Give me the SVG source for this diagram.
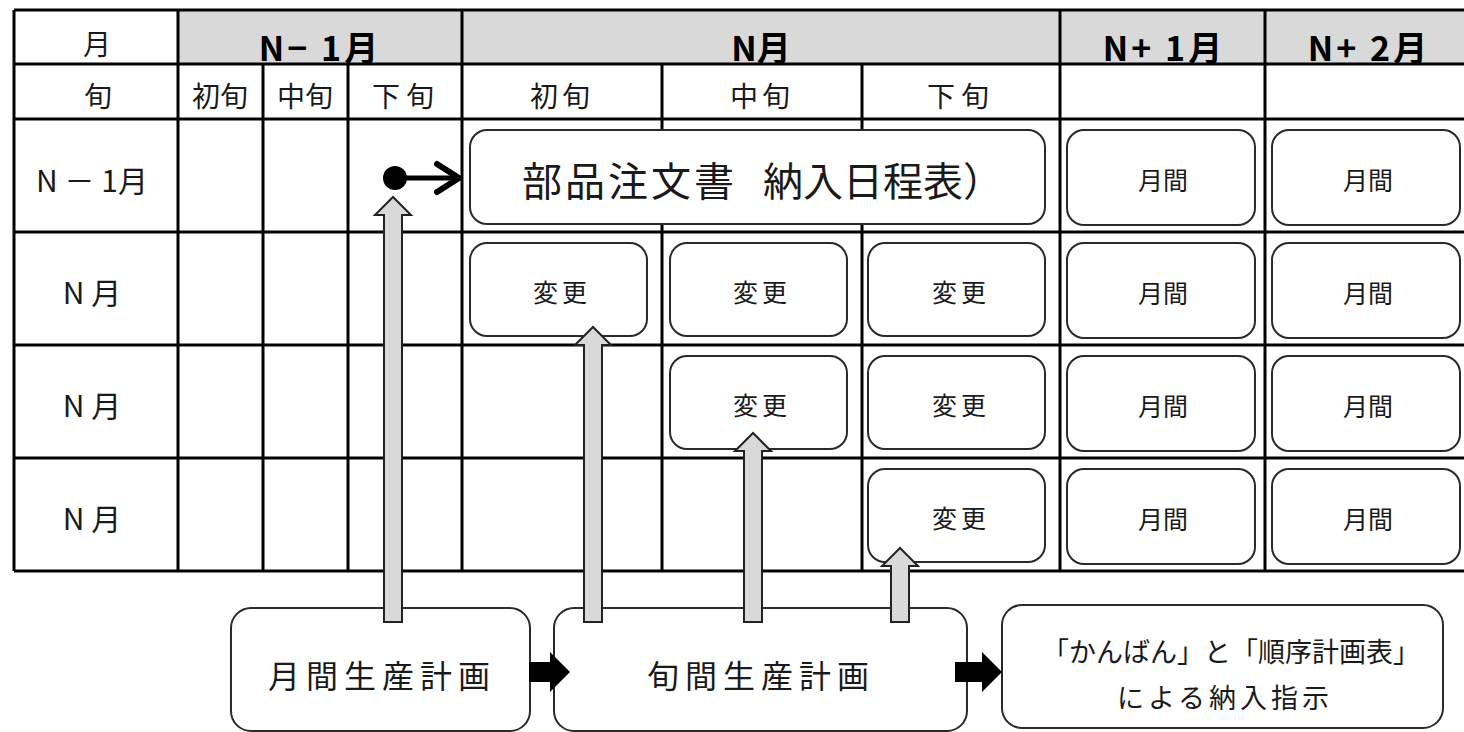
<svg xmlns="http://www.w3.org/2000/svg" width="1464" height="732" viewBox="0 0 1464 732">
<defs>
<style>
text{font-family:"Noto Sans CJK JP","Noto Sans",sans-serif;fill:#1a1a1a}
.hdr{font-size:34px;font-weight:bold;text-anchor:middle;fill:#000}
.sub{font-size:28px;text-anchor:middle}
.row{font-size:30px;text-anchor:middle}
.cell{font-size:25px;text-anchor:middle}
.big{font-size:40px}
.plan{font-size:32px;text-anchor:middle}
.note{font-size:27px;text-anchor:middle}
.grid line{stroke:#000;stroke-width:3}
.box{fill:#fff;stroke:#2a2a2a;stroke-width:2}
.blk{fill:#d9d9d9;stroke:#222;stroke-width:2}
.bar{fill:#000;stroke:none}
</style>
</defs>
<rect width="1464" height="732" fill="#fff"/>
<g id="table">
<rect x="178" y="10" width="1286" height="54" fill="#d9d9d9"/>
<text class="hdr" x="320" y="61" letter-spacing="3">N− 1月</text>
<text class="hdr" x="761" y="61">N月</text>
<text class="hdr" x="1164" y="61" letter-spacing="3">N+ 1月</text>
<text class="hdr" x="1369" y="61" letter-spacing="3">N+ 2月</text>
<rect x="14" y="65.5" width="1450" height="506" fill="#fff"/>
<text class="sub" x="97" y="55">月</text>
<text class="sub" x="98" y="107">旬</text>
<text class="sub" x="220" y="107">初旬</text>
<text class="sub" x="305" y="107">中旬</text>
<text class="sub" x="406" y="107" letter-spacing="6">下旬</text>
<text class="sub" x="562" y="107" letter-spacing="4">初旬</text>
<text class="sub" x="762" y="107" letter-spacing="4">中旬</text>
<text class="sub" x="961" y="107" letter-spacing="6">下旬</text>
<text class="row" x="92" y="192">N － 1月</text>
<text class="row" x="92" y="304">N 月</text>
<text class="row" x="92" y="417">N 月</text>
<text class="row" x="92" y="530">N 月</text>
<g class="grid">
<line x1="14" y1="10" x2="1464" y2="10"/>
<line x1="14" y1="64" x2="1464" y2="64"/>
<line x1="14" y1="119" x2="1464" y2="119"/>
<line x1="14" y1="232" x2="1464" y2="232"/>
<line x1="14" y1="345" x2="1464" y2="345"/>
<line x1="14" y1="458" x2="1464" y2="458"/>
<line x1="14" y1="571" x2="1464" y2="571"/>
<line x1="14" y1="10" x2="14" y2="571"/>
<line x1="178" y1="10" x2="178" y2="571"/>
<line x1="263" y1="64" x2="263" y2="571"/>
<line x1="348" y1="64" x2="348" y2="571"/>
<line x1="462" y1="10" x2="462" y2="571"/>
<line x1="662" y1="64" x2="662" y2="571"/>
<line x1="862" y1="64" x2="862" y2="571"/>
<line x1="1060" y1="10" x2="1060" y2="571"/>
<line x1="1265" y1="10" x2="1265" y2="571"/>
</g>
</g>
<g id="order">
<rect class="box" x="470" y="130" width="575" height="94" rx="17"/>
<text class="big" x="522" y="196" letter-spacing="3">部品注文書 <tspan x="763" letter-spacing="0">納入日程表）</tspan></text>
</g>
<g id="change-n1-early">
<rect class="box" x="470" y="243" width="177" height="93" rx="17"/>
<text class="cell" x="562" y="302" letter-spacing="4">変更</text>
</g>
<g id="change-n1-mid">
<rect class="box" x="670" y="243" width="177" height="93" rx="17"/>
<text class="cell" x="762" y="302" letter-spacing="4">変更</text>
</g>
<g id="change-n1-late">
<rect class="box" x="868" y="243" width="177" height="93" rx="17"/>
<text class="cell" x="961" y="302" letter-spacing="4">変更</text>
</g>
<g id="change-n2-mid">
<rect class="box" x="670" y="356" width="177" height="93" rx="17"/>
<text class="cell" x="762" y="415" letter-spacing="4">変更</text>
</g>
<g id="change-n2-late">
<rect class="box" x="868" y="356" width="177" height="93" rx="17"/>
<text class="cell" x="961" y="415" letter-spacing="4">変更</text>
</g>
<g id="change-n3-late">
<rect class="box" x="868" y="469" width="177" height="93" rx="17"/>
<text class="cell" x="961" y="528" letter-spacing="4">変更</text>
</g>
<g id="monthly-a1"><rect class="box" x="1067" y="130" width="188" height="95" rx="17"/><text class="cell" x="1163" y="190">月間</text></g>
<g id="monthly-b1"><rect class="box" x="1272" y="130" width="188" height="95" rx="17"/><text class="cell" x="1368" y="190">月間</text></g>
<g id="monthly-a2"><rect class="box" x="1067" y="243" width="188" height="95" rx="17"/><text class="cell" x="1163" y="303">月間</text></g>
<g id="monthly-b2"><rect class="box" x="1272" y="243" width="188" height="95" rx="17"/><text class="cell" x="1368" y="303">月間</text></g>
<g id="monthly-a3"><rect class="box" x="1067" y="356" width="188" height="95" rx="17"/><text class="cell" x="1163" y="416">月間</text></g>
<g id="monthly-b3"><rect class="box" x="1272" y="356" width="188" height="95" rx="17"/><text class="cell" x="1368" y="416">月間</text></g>
<g id="monthly-a4"><rect class="box" x="1067" y="469" width="188" height="95" rx="17"/><text class="cell" x="1163" y="529">月間</text></g>
<g id="monthly-b4"><rect class="box" x="1272" y="469" width="188" height="95" rx="17"/><text class="cell" x="1368" y="529">月間</text></g>
<g id="monthly-plan">
<rect class="box" x="231" y="608" width="299" height="123" rx="20"/>
<text class="plan" x="382" y="688" letter-spacing="6">月間生産計画</text>
</g>
<g id="dekad-plan">
<rect class="box" x="554" y="608" width="413" height="123" rx="20"/>
<text class="plan" x="761" y="688" letter-spacing="6">旬間生産計画</text>
</g>
<g id="delivery">
<rect class="box" x="1002" y="605" width="441" height="123" rx="20"/>
<text class="note" x="1231" y="662">「かんばん」と「順序計画表」</text>
<text class="note" x="1225" y="708" letter-spacing="4">による納入指示</text>
</g>
<g id="connectors">
<circle cx="395" cy="178" r="12" fill="#000"/>
<line x1="395" y1="178" x2="458" y2="178" stroke="#000" stroke-width="5"/>
<polyline points="437,164 459,178 437,192" fill="none" stroke="#000" stroke-width="6" stroke-linecap="round" stroke-linejoin="round"/>
<path class="blk" d="M384,622 V215 H375 L393,197 L411,215 H402 V622 Z"/>
<path class="blk" d="M584,622 V345 H575 L593,327 L611,345 H602 V622 Z"/>
<path class="blk" d="M744,622 V451 H735 L753,433 L771,451 H762 V622 Z"/>
<path class="blk" d="M891,622 V566 H882 L900,548 L918,566 H909 V622 Z"/>
<path class="bar" d="M529,662 H550 V652 L570,672 L550,692 V682 H529 Z"/>
<path class="bar" d="M955,662 H982 V652 L1002,672 L982,692 V682 H955 Z"/>
</g>
</svg>
